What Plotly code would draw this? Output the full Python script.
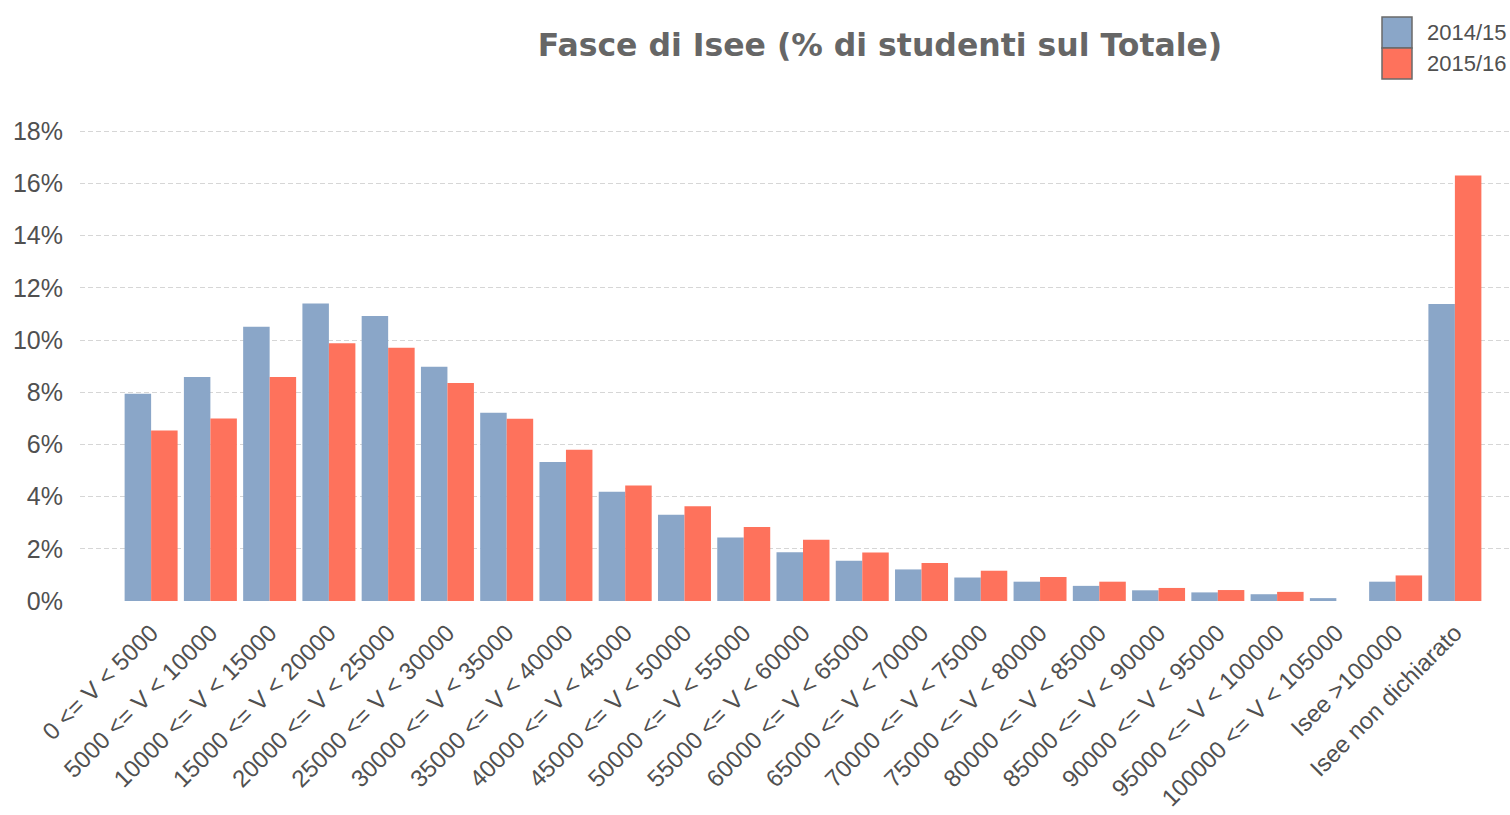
import plotly.graph_objects as go

categories = [
    "0 <= V < 5000", "5000 <= V < 10000", "10000 <= V < 15000", "15000 <= V < 20000",
    "20000 <= V < 25000", "25000 <= V < 30000", "30000 <= V < 35000", "35000 <= V < 40000",
    "40000 <= V < 45000", "45000 <= V < 50000", "50000 <= V < 55000", "55000 <= V < 60000",
    "60000 <= V < 65000", "65000 <= V < 70000", "70000 <= V < 75000", "75000 <= V < 80000",
    "80000 <= V < 85000", "85000 <= V < 90000", "90000 <= V < 95000", "95000 <= V < 100000",
    "100000 <= V < 105000", "Isee >100000", "Isee non dichiarato",
]
series_names = ["2014/15", "2015/16"]
values_2014 = [7.94, 8.58, 10.51, 11.40, 10.92, 8.98, 7.21, 5.33, 4.19, 3.31, 2.43, 1.87,
               1.54, 1.21, 0.90, 0.74, 0.58, 0.41, 0.33, 0.26, 0.11, 0.74, 11.38]
values_2015 = [6.53, 6.99, 8.58, 9.88, 9.71, 8.35, 6.98, 5.80, 4.43, 3.63, 2.84, 2.35,
               1.86, 1.46, 1.16, 0.92, 0.74, 0.50, 0.42, 0.35, 0.0, 0.98, 16.31]
y_ticks = [0, 2, 4, 6, 8, 10, 12, 14, 16, 18]
y_tick_labels = [f"{v}%" for v in y_ticks]

BLUE = "#8aa6c8"
RED = "#fe725c"
TXT = "#505050"

W, H = 1510, 815
ML, MR, MT, MB = 80, 0, 130, 214

fig = go.Figure()
fig.add_trace(go.Bar(x=categories, y=values_2014, name=series_names[0],
                     marker=dict(color=BLUE, line=dict(width=0))))
fig.add_trace(go.Bar(x=categories, y=values_2015, name=series_names[1],
                     marker=dict(color=RED, line=dict(width=0))))

# manual legend (large swatches as in the reference)
def px_to_paper_x(px):
    return (px - ML) / (W - ML - MR)

def px_to_paper_y(py):
    return (H - MB - py) / (H - MT - MB)

for i, (name, col) in enumerate(zip(series_names, [BLUE, RED])):
    top = 17 + i * 31
    fig.add_shape(type="rect", xref="paper", yref="paper",
                  x0=px_to_paper_x(1382), x1=px_to_paper_x(1412),
                  y0=px_to_paper_y(top), y1=px_to_paper_y(top + 31),
                  fillcolor=col, line=dict(color="#6a6a6a", width=1.5))
    fig.add_annotation(xref="paper", yref="paper", x=px_to_paper_x(1425),
                       y=px_to_paper_y(top + 15.5), text=name, showarrow=False,
                       xanchor="left", yanchor="middle",
                       font=dict(family="Liberation Sans, Arial", size=22, color=TXT))

fig.update_layout(
    width=W, height=H,
    margin=dict(l=ML, r=MR, t=MT, b=MB, autoexpand=False),
    paper_bgcolor="white", plot_bgcolor="white",
    showlegend=False,
    barmode="group", bargap=0.106, bargroupgap=0.0,
    title=dict(text="<b>Fasce di Isee (% di studenti sul Totale)</b>",
               x=880 / W, xref="container", xanchor="center",
               y=1 - 45 / H, yref="container", yanchor="middle",
               font=dict(family="DejaVu Sans", size=31.5, color="#666666")),
    font=dict(family="Liberation Sans, Arial", color=TXT),
)
fig.update_xaxes(type="category", range=[-1.2, 22.93], tickangle=-45,
                 tickfont=dict(size=24, color=TXT), showgrid=False,
                 showline=False, ticks="", automargin=False, ticklabelstandoff=12)
fig.update_yaxes(range=[0, 18.05], tickmode="array", tickvals=y_ticks,
                 ticktext=y_tick_labels,
                 tickfont=dict(size=25, color=TXT), showgrid=True,
                 gridcolor="#d6d6d6", griddash="5px,3px", gridwidth=1,
                 zeroline=False, showline=False, ticks="", ticklabelstandoff=16,
                 automargin=False)

fig.write_html("out.html", config={"displayModeBar": False},
               post_script="document.body.style.margin='0';")
